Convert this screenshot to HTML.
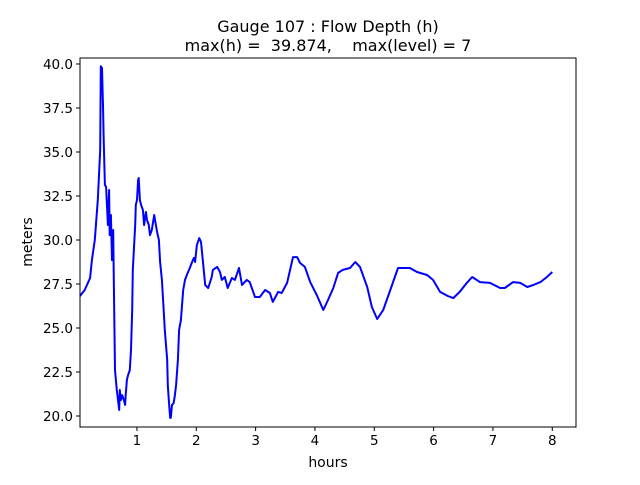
<!DOCTYPE html>
<html><head><meta charset="utf-8"><style>
html,body{margin:0;padding:0;background:#fff;}
svg text{font-family:"DejaVu Sans","Liberation Sans",sans-serif;fill:#000;}
</style></head><body>
<svg id="chart" width="640" height="480">
<rect width="640" height="480" fill="#fff"/>
<text x="328" y="32" font-size="16" text-anchor="middle">Gauge 107 : Flow Depth (h)</text>
<text x="328" y="51" font-size="16" text-anchor="middle" xml:space="preserve">max(h) =  39.874,    max(level) = 7</text>
<g id="ticks"></g>
<path id="line" fill="none" stroke="#0000ff" stroke-width="2" stroke-linejoin="round"/>
<rect x="80" y="58" width="496" height="369" fill="none" stroke="#000" stroke-width="1"/>
<text x="328" y="467" font-size="14" text-anchor="middle">hours</text>
<text transform="translate(32,242) rotate(-90)" font-size="14" text-anchor="middle">meters</text>
</svg>
<script>
const hours=[0.04,0.12,0.21,0.24,0.29,0.34,0.38,0.39,0.41,0.43,0.44,0.46,0.48,0.49,0.51,0.53,0.54,0.56,0.58,0.60,0.61,0.63,0.66,0.70,0.71,0.73,0.75,0.78,0.80,0.81,0.83,0.85,0.88,0.90,0.92,0.93,0.97,0.98,1.00,1.02,1.03,1.05,1.07,1.10,1.12,1.15,1.17,1.20,1.22,1.25,1.29,1.32,1.34,1.37,1.39,1.42,1.44,1.47,1.51,1.52,1.54,1.56,1.57,1.59,1.62,1.64,1.66,1.69,1.71,1.74,1.78,1.81,1.84,1.89,1.93,1.96,1.98,2.01,2.05,2.08,2.11,2.15,2.20,2.26,2.28,2.35,2.40,2.43,2.48,2.53,2.60,2.65,2.72,2.77,2.85,2.90,2.99,3.07,3.16,3.24,3.29,3.38,3.44,3.53,3.63,3.70,3.75,3.83,3.92,4.03,4.14,4.22,4.31,4.39,4.47,4.59,4.68,4.76,4.88,4.96,5.05,5.15,5.27,5.40,5.60,5.72,5.89,5.99,6.11,6.24,6.33,6.44,6.56,6.65,6.78,6.95,7.12,7.20,7.34,7.46,7.58,7.68,7.80,7.91,8.00];
const depth=[26.82,27.16,27.84,28.86,30.0,32.27,35.11,39.87,39.77,37.39,35.68,33.13,33.01,32.27,30.85,32.84,30.28,31.42,28.86,30.57,27.73,22.61,21.48,20.34,21.48,20.91,21.19,20.91,20.63,21.19,22.05,22.33,22.61,23.75,26.02,28.30,30.85,31.99,32.27,33.41,33.52,32.27,31.99,31.70,30.85,31.59,31.14,30.85,30.28,30.57,31.42,30.85,30.45,30.0,28.75,27.73,26.59,24.89,23.18,21.76,20.74,19.89,19.89,20.63,20.74,21.19,21.76,23.18,24.89,25.45,27.16,27.73,28.01,28.41,28.75,28.98,28.75,29.72,30.11,29.89,28.86,27.44,27.27,27.90,28.30,28.47,28.18,27.73,27.90,27.27,27.84,27.73,28.41,27.44,27.73,27.61,26.76,26.76,27.16,26.99,26.48,27.05,26.99,27.56,29.03,29.03,28.69,28.47,27.61,26.88,26.02,26.59,27.27,28.13,28.30,28.41,28.75,28.47,27.33,26.19,25.51,26.02,27.16,28.41,28.41,28.18,28.01,27.73,27.05,26.82,26.70,27.05,27.56,27.90,27.61,27.56,27.27,27.27,27.61,27.56,27.33,27.44,27.61,27.90,28.18];
const xTicks=[1,2,3,4,5,6,7,8];
const yTicks=[20.0,22.5,25.0,27.5,30.0,32.5,35.0,37.5,40.0];
const X0=80,X1=576,Y0=58,Y1=427,xmin=0.04,xmax=8.40,ymin=19.375,ymax=40.34;
function sx(v){return X0+(v-xmin)/(xmax-xmin)*(X1-X0);}
function sy(v){return Y1-(v-ymin)/(ymax-ymin)*(Y1-Y0);}
const NS="http://www.w3.org/2000/svg";
const g=document.getElementById('ticks');
xTicks.forEach(t=>{
  const l=document.createElementNS(NS,'line');
  l.setAttribute('x1',sx(t));l.setAttribute('x2',sx(t));l.setAttribute('y1',Y1);l.setAttribute('y2',Y1+4);l.setAttribute('stroke','#000');
  
  
  g.appendChild(l);
  const tx=document.createElementNS(NS,'text');
  tx.setAttribute('x',sx(t));tx.setAttribute('y',Y1+18);tx.setAttribute('font-size','13.5');tx.setAttribute('text-anchor','middle');
  tx.textContent=t;
  
  
  g.appendChild(tx);
});
yTicks.forEach(t=>{
  const l=document.createElementNS(NS,'line');
  l.setAttribute('x1',X0-4);l.setAttribute('x2',X0);l.setAttribute('y1',sy(t));l.setAttribute('y2',sy(t));l.setAttribute('stroke','#000');
  
  
  g.appendChild(l);
  const tx=document.createElementNS(NS,'text');
  tx.setAttribute('x',X0-7);tx.setAttribute('y',sy(t)+5);tx.setAttribute('font-size','13.5');tx.setAttribute('text-anchor','end');
  tx.textContent=t.toFixed(1);
  
  
  g.appendChild(tx);
});
document.getElementById('line').setAttribute('d',hours.map((h,i)=>(i?'L':'M')+sx(h).toFixed(1)+','+sy(depth[i]).toFixed(1)).join(''));
</script>
</body></html>
